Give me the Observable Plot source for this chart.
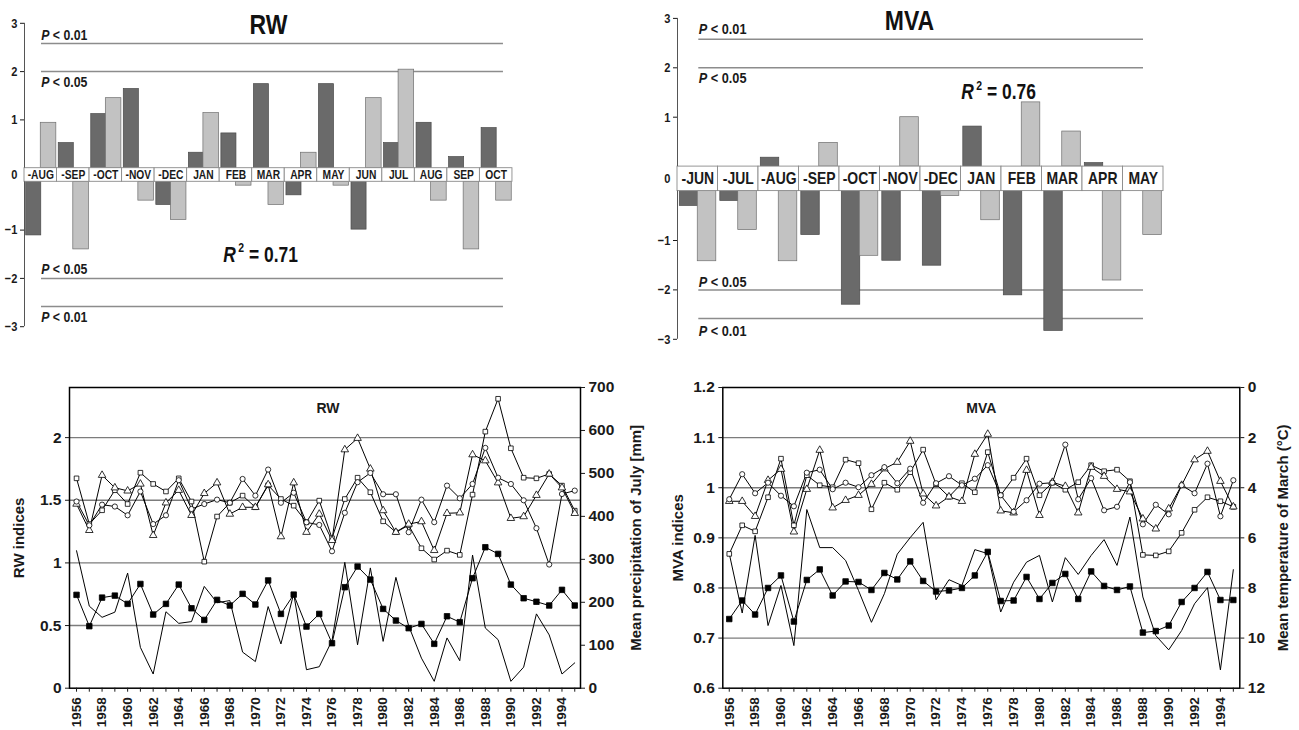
<!DOCTYPE html>
<html><head><meta charset="utf-8">
<script src="https://cdn.jsdelivr.net/npm/d3@7"></script>
<script src="https://cdn.jsdelivr.net/npm/@observablehq/plot@0.6"></script>
<style>
body{margin:0;background:#fff;}
#root{position:relative;width:1299px;height:730px;overflow:hidden;background:#fff;}
.panel{position:absolute;}
.panel svg{display:block;}
</style></head><body><div id="root"></div>
<script>
// ---------- DATA ----------
const rwMonths = ["-AUG","-SEP","-OCT","-NOV","-DEC","JAN","FEB","MAR","APR","MAY","JUN","JUL","AUG","SEP","OCT"];
const rwDark  = [-1.11, 0.52, 1.12, 1.64, -0.48, 0.32, 0.72, 1.74, -0.28, 1.74, -0.99, 0.52, 0.94, 0.23, 0.83];
const rwLight = [0.94, -1.40, 1.45, -0.39, -0.79, 1.14, -0.08, -0.48, 0.32, -0.08, 1.45, 2.04, -0.39, -1.40, -0.39];

const mvaMonths = ["-JUN","-JUL","-AUG","-SEP","-OCT","-NOV","-DEC","JAN","FEB","MAR","APR","MAY"];
const mvaDark  = [-0.30, -0.20, 0.18, -0.89, -2.30, -1.41, -1.51, 0.81, -2.11, -2.83, 0.07, 0];
const mvaLight = [-1.42, -0.79, -1.42, 0.48, -1.31, 1.00, -0.10, -0.59, 1.30, 0.71, -1.81, -0.89];

const sigLevels = [2.0, 2.58];
const sigLabels = ["P < 0.05", "P < 0.01"];
const barTicks = [3, 2, 1, 0, -1, -2, -3];

const years = d3.range(1956, 1996);
const yearLabels = d3.range(1956, 1996, 2);

// RW panel (1956-1995)
const rwSquare = [1.675,1.31,1.42,1.58,1.47,1.72,1.63,1.57,1.675,1.49,
                  1.01,1.37,1.48,1.537,1.444,1.62,1.51,1.457,1.324,1.497,
                  1.197,1.51,1.68,1.564,1.332,1.245,1.30,1.117,1.027,1.098,
                  1.064,1.545,2.048,2.31,1.915,1.68,1.675,1.71,1.617,1.417];
const rwTriangle = [1.47,1.26,1.70,1.60,1.575,1.63,1.22,1.48,1.58,1.38,
                    1.555,1.64,1.39,1.444,1.444,1.625,1.21,1.64,1.245,1.39,
                    1.18,1.904,1.995,1.75,1.418,1.245,1.31,1.33,1.10,1.396,
                    1.40,1.864,1.816,1.64,1.356,1.37,1.54,1.71,1.60,1.396];
const rwCircle = [1.49,1.30,1.465,1.45,1.38,1.57,1.31,1.38,1.66,1.43,
                  1.47,1.505,1.48,1.67,1.537,1.745,1.48,1.56,1.324,1.303,
                  1.093,1.40,1.644,1.718,1.548,1.548,1.245,1.505,1.325,1.617,
                  1.516,1.63,1.918,1.68,1.63,1.50,1.277,0.987,1.55,1.577];
const rwFilled = [0.745,0.495,0.723,0.739,0.673,0.832,0.588,0.673,0.827,0.638,
                  0.545,0.705,0.66,0.753,0.668,0.86,0.593,0.747,0.492,0.593,
                  0.359,0.806,0.971,0.867,0.633,0.54,0.479,0.513,0.354,0.574,
                  0.527,0.878,1.125,1.072,0.827,0.718,0.69,0.66,0.785,0.66];
const julyPrecip = [320,191,165,177,268,95,33,178,151,155,
                    237,199,204,84,62,190,103,220,43,50,
                    111,293,101,280,109,258,145,70,16,117,
                    64,310,140,113,16,49,173,124,33,59];
const rwTicks = [0, 0.5, 1, 1.5, 2];
const rwGrid = [0.5, 1, 1.5, 2];
const precipTicks = [0, 100, 200, 300, 400, 500, 600, 700];

// MVA panel (1956-1995)
const mvaSquare = [0.868,0.925,0.913,0.981,1.058,0.925,1.025,1.005,1.001,1.056,
                   1.049,0.957,1.01,0.996,1.031,1.076,1.007,0.982,1.009,0.991,
                   1.071,0.985,1.02,1.058,0.985,1.01,0.996,1.011,1.045,1.033,
                   1.036,1.013,0.866,0.865,0.873,0.91,0.956,0.981,0.973,0.962];
const mvaTriangle = [0.973,0.973,0.943,1.015,1.037,0.912,0.997,1.075,0.96,0.975,
                     0.985,1.007,1.038,1.051,1.093,0.988,0.964,0.982,0.973,1.067,
                     1.107,0.954,0.950,1.035,0.945,1.011,1.003,0.95,1.041,1.023,
                     0.997,0.992,0.938,0.918,0.958,1.005,1.056,1.073,1.013,0.962];
const mvaCircle = [0.977,1.027,0.989,1.01,0.984,0.963,1.03,1.036,0.997,1.01,
                   1.001,1.025,1.041,1.009,1.038,0.970,1.009,1.023,1.005,1.018,
                   1.045,0.985,0.952,0.975,1.008,1.01,1.086,0.977,1.019,0.955,
                   0.962,1.011,0.927,0.966,0.947,1.005,0.989,1.048,0.943,1.015];
const mvaFilled = [0.738,0.775,0.747,0.80,0.825,0.733,0.816,0.837,0.785,0.813,
                   0.812,0.796,0.830,0.817,0.853,0.814,0.793,0.795,0.80,0.825,
                   0.872,0.774,0.775,0.822,0.778,0.81,0.828,0.778,0.833,0.804,
                   0.796,0.803,0.711,0.714,0.725,0.772,0.80,0.832,0.776,0.776];
const marchTemp = [6.63,9.0,5.90,9.50,7.9,10.30,4.87,6.39,6.39,6.9,
                   8.1,9.37,8.23,6.65,5.99,5.38,8.47,7.67,7.90,6.47,
                   6.63,8.96,7.77,6.97,6.70,8.56,6.79,7.46,6.70,6.07,
                   7.10,5.17,8.36,9.90,10.47,9.70,8.63,7.99,11.27,7.27];
const mvaTicks = [0.6, 0.7, 0.8, 0.9, 1, 1.1, 1.2];
const mvaGrid = [0.7, 0.8, 0.9, 1, 1.1];
const tempTicks = [0, 2, 4, 6, 8, 10, 12];

// ---------- HELPERS ----------
const SANS = "'Liberation Sans',Arial,Helvetica,sans-serif";
const root = document.getElementById("root");

function place(svg, left, top, condense) {
  const d = document.createElement("div");
  d.className = "panel";
  d.style.left = left + "px";
  d.style.top = top + "px";
  d.appendChild(svg);
  root.appendChild(d);
  decorate(svg, condense);
}

function decorate(svg, condense) {
  const texts = d3.select(svg).selectAll("text");
  texts.each(function () {
    const t = this.textContent;
    if (this.childElementCount) return;
    if (/^P < /.test(t)) {
      const s = d3.select(this); s.text(null);
      s.append("tspan").attr("font-style", "italic").text(t.slice(0, 1));
      s.append("tspan").text(t.slice(1));
    } else if (/^R2 = /.test(t)) {
      const s = d3.select(this); s.text(null);
      s.append("tspan").attr("font-style", "italic").text(t.slice(0, 1));
      s.append("tspan").attr("font-size", "0.6em").attr("dx", "0.25em").attr("dy", "-0.75em").text(t.slice(1, 2));
      s.append("tspan").attr("dy", "0.45em").text(t.slice(2));
    }
  });
  if (condense) {
    texts.each(function () {
      const L = this.getComputedTextLength();
      if (L > 0) {
        this.setAttribute("textLength", (L * condense).toFixed(2));
        this.setAttribute("lengthAdjust", "spacingAndGlyphs");
      }
    });
  }
}

function barChart(o) {
  const n = o.months.length;
  const cells = o.months.map((m, i) => ({m, i}));
  const mk = vals => vals.map((v, i) => ({i, v})).filter(d => d.v !== 0);
  const dark = mk(o.dark), light = mk(o.light);
  const pos = a => a.filter(d => d.v > 0), neg = a => a.filter(d => d.v < 0);
  const fmt = d => d < 0 ? "\u2212" + Math.abs(d) : String(d);
  const sig = o.sig.map((v, k) => ({v, label: o.labels[k]}));
  const sigNeg = sig.map(d => ({v: -d.v, label: d.label}));
  const darkStyle = {fill: "#6a6a6a", stroke: "#4a4a4a", strokeWidth: 0.7};
  const lightStyle = {fill: "#c2c2c2", stroke: "#6e6e6e", strokeWidth: 0.7};
  const ruleStyle = {stroke: "#8c8c8c", strokeWidth: 1.5, insetLeft: o.ruleL, insetRight: o.ruleR};
  const pStyle = {y: "v", text: "label", frameAnchor: "left", textAnchor: "start", dx: o.pdx,
                  fontSize: o.pFont, fontWeight: "bold", fill: "#1a1a1a"};
  const axStyle = {tickSize: 4, tickPadding: 3, tickFormat: fmt, fontSize: 13.5, fontWeight: "bold", label: null};
  return Plot.plot({
    width: o.W, height: o.H,
    marginLeft: o.ml, marginRight: o.W - o.ml - n * o.cellW,
    marginTop: o.zeroY - 3 * o.unit, marginBottom: o.H - (o.zeroY + 3 * o.unit),
    x: {domain: [0, n], axis: null},
    y: {domain: [-3, 3], axis: null},
    style: {fontFamily: SANS, background: "white", overflow: "visible", color: "#1a1a1a"},
    marks: [
      Plot.ruleY(sig, {y: "v", ...ruleStyle}),
      Plot.ruleY(sigNeg, {y: "v", dy: o.gap, ...ruleStyle}),
      Plot.rect(pos(dark), {x1: "i", x2: d => d.i + 0.5, y1: 0, y2: "v", insetLeft: o.inL, insetRight: -0.5, ...darkStyle}),
      Plot.rect(neg(dark), {x1: "i", x2: d => d.i + 0.5, y1: 0, y2: "v", dy: o.gap, insetLeft: o.inL, insetRight: -0.5, ...darkStyle}),
      Plot.rect(pos(light), {x1: d => d.i + 0.5, x2: d => d.i + 1, y1: 0, y2: "v", insetRight: o.inR, ...lightStyle}),
      Plot.rect(neg(light), {x1: d => d.i + 0.5, x2: d => d.i + 1, y1: 0, y2: "v", dy: o.gap, insetRight: o.inR, ...lightStyle}),
      Plot.rect(cells, {x1: "i", x2: d => d.i + 1, y1: 0, y2: 0, insetBottom: -o.gap, fill: "white", stroke: "#8a8a8a", strokeWidth: 0.9}),
      Plot.text(cells, {x: d => d.i + 0.5, y: 0, dy: o.gap / 2, text: "m", lineAnchor: "middle", fontSize: o.monthFont, fontWeight: "bold", fill: "#1a1a1a"}),
      Plot.ruleX([0], {y1: 3, y2: 0, stroke: "#555", strokeWidth: 1}),
      Plot.ruleX([0], {y1: 0, y2: -3, dy: o.gap, stroke: "#555", strokeWidth: 1}),
      Plot.axisY({ticks: barTicks.filter(d => d > 0), ...axStyle}),
      Plot.axisY({ticks: barTicks.filter(d => d === 0), dy: o.gap / 2, ...axStyle, tickSize: 0, tickPadding: 7}),
      Plot.axisY({ticks: barTicks.filter(d => d < 0), dy: o.gap, ...axStyle}),
      Plot.text([sig[1]], {...pStyle, lineAnchor: "bottom", dy: o.p1}),
      Plot.text([sig[0]], {...pStyle, lineAnchor: "top", dy: o.p2}),
      Plot.text([sigNeg[0]], {...pStyle, lineAnchor: "bottom", dy: o.gap + o.p3}),
      Plot.text([sigNeg[1]], {...pStyle, lineAnchor: "top", dy: o.gap + o.p4}),
      Plot.text([o.title], {text: d => d, frameAnchor: "top", textAnchor: "middle", lineAnchor: "middle", dx: o.tdx, dy: o.tdy, fontSize: 28, fontWeight: "bold", fill: "#111"}),
      Plot.text([o.r2], {text: d => d, frameAnchor: "top-left", textAnchor: "middle", lineAnchor: "middle", dx: o.rdx, dy: o.rdy, fontSize: 22, fontWeight: "bold", fill: "#111"})
    ]
  });
}

function lineChart(o) {
  const data = years.map((year, i) => ({year, a: o.sq[i], b: o.tri[i], c: o.cir[i], f: o.fill[i], cl: o.toY(o.clim[i])}));
  const ln = {x: "year", stroke: "black", strokeWidth: 1};
  const dot = {x: "year", fill: "white", stroke: "black", strokeWidth: 0.8};
  const ax = {fontSize: 15.5, fontWeight: "bold", label: null, tickSize: 4, tickPadding: 4};
  return Plot.plot({
    width: o.W, height: o.H,
    marginLeft: o.ml, marginRight: o.mr, marginTop: o.mt, marginBottom: o.mb,
    x: {domain: o.xdom, axis: null},
    y: {domain: o.ydom, axis: null},
    style: {fontFamily: SANS, background: "white", overflow: "visible", color: "#1a1a1a"},
    marks: [
      Plot.ruleY(o.grid, {stroke: "#7c7c7c", strokeWidth: 1.4}),
      Plot.line(data, {...ln, y: "cl"}),
      Plot.line(data, {...ln, y: "f"}),
      Plot.line(data, {...ln, y: "a"}),
      Plot.line(data, {...ln, y: "b"}),
      Plot.line(data, {...ln, y: "c"}),
      Plot.dot(data, {...dot, y: "f", symbol: "square", r: 3.1, fill: "black"}),
      Plot.dot(data, {...dot, y: "a", symbol: "square", r: 2.6}),
      Plot.dot(data, {...dot, y: "b", symbol: "triangle", r: 2.8}),
      Plot.dot(data, {...dot, y: "c", symbol: "circle", r: 2.6}),
      Plot.frame({stroke: "black", strokeWidth: 1.5}),
      Plot.axisY({ticks: o.leftTicks, tickFormat: d => String(d), ...ax}),
      Plot.axisY({anchor: "right", ticks: o.rightTicks.map(o.toY), tickFormat: d => String(Math.round(o.fromY(d))), ...ax}),
      Plot.axisX({ticks: years, tickSize: 4, tickFormat: () => "", label: null}),
      Plot.axisX({ticks: yearLabels, tickSize: 0, tickPadding: 9, tickRotate: -90, tickFormat: d => String(d),
                  fontSize: 13.5, fontWeight: "bold", label: null}),
      Plot.text([o.leftTitle], {text: d => d, frameAnchor: "left", textAnchor: "middle", lineAnchor: "middle", rotate: -90, dx: o.ltdx, fontSize: 15, fontWeight: "bold"}),
      Plot.text([o.rightTitle], {text: d => d, frameAnchor: "right", textAnchor: "middle", lineAnchor: "middle", rotate: -90, dx: o.rtdx, fontSize: 15, fontWeight: "bold"}),
      Plot.text([o.inner], {text: d => d, frameAnchor: "top", textAnchor: "middle", lineAnchor: "middle", dx: o.idx, dy: o.idy, fontSize: 14, fontWeight: "bold"})
    ]
  });
}

// ---------- TOP ROW ----------
place(barChart({
  months: rwMonths, dark: rwDark, light: rwLight, sig: sigLevels, labels: sigLabels,
  W: 650, H: 345, ml: 24, cellW: 32.53, zeroY: 167.7, unit: 48.3, gap: 13.6,
  ruleL: 17, ruleR: 9, pdx: 16.7, pFont: 15, p1: -4, p2: 5, p3: -4, p4: 4.5,
  inL: 1.7, inR: 0.7, monthFont: 12.5,
  title: "RW", tdx: 0, tdy: 2.2, r2: "R2 = 0.71", rdx: 236, rdy: 232
}), 0, 0, 0.82);

place(barChart({
  months: mvaMonths, dark: mvaDark, light: mvaLight, sig: sigLevels, labels: sigLabels,
  W: 649, H: 350, ml: 27, cellW: 40.5, zeroY: 166.1, unit: 49.4, gap: 24.5,
  ruleL: 21.3, ruleR: 20, pdx: 21.3, pFont: 15.5, p1: -5, p2: 4, p3: -3, p4: 6,
  inL: 2.3, inR: 1.7, monthFont: 17,
  title: "MVA", tdx: -11, tdy: 2.4, r2: "R2 = 0.76", rdx: 321, rdy: 74
}), 650, 0, 0.82);

// ---------- BOTTOM ROW ----------
const kP = 2.4 / 700;
place(lineChart({
  sq: rwSquare, tri: rwTriangle, cir: rwCircle, fill: rwFilled, clim: julyPrecip,
  toY: p => p * kP, fromY: y => y / kP,
  W: 650, H: 380, ml: 69, mr: 70, mt: 37, mb: 42.3,
  xdom: [1955.45, 1995.45], ydom: [0, 2.4],
  grid: rwGrid, leftTicks: rwTicks, rightTicks: precipTicks,
  leftTitle: "RW indices", ltdx: -50, rightTitle: "Mean precipitation of July [mm]", rtdx: 56,
  inner: "RW", idx: 3, idy: 20.7
}), 0, 350, 0);

place(lineChart({
  sq: mvaSquare, tri: mvaTriangle, cir: mvaCircle, fill: mvaFilled, clim: marchTemp,
  toY: t => 1.2 - t * 0.05, fromY: y => (1.2 - y) / 0.05,
  W: 649, H: 380, ml: 72.3, mr: 59.7, mt: 37, mb: 42.3,
  xdom: [1955.5, 1995.5], ydom: [0.6, 1.2],
  grid: mvaGrid, leftTicks: mvaTicks, rightTicks: tempTicks,
  leftTitle: "MVA indices", ltdx: -45, rightTitle: "Mean temperature of March (\u00B0C)", rtdx: 43,
  inner: "MVA", idx: 0, idy: 20.7
}), 650, 350, 0);
</script></body></html>
